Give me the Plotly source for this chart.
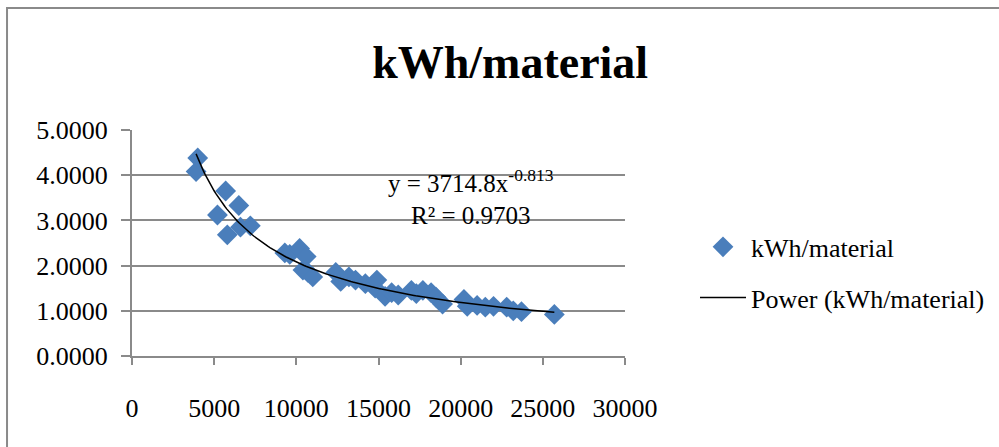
import numpy as np
import plotly.graph_objects as go

# Data
production = [3900, 4000, 5200, 5700, 5800, 6500, 6600, 7200, 9300, 9600,
              10200, 10400, 10600, 10700, 11000, 12400, 12700, 13200, 13600, 14200,
              14800, 14900, 15400, 15800, 16200, 17000, 17300, 17700, 18200, 18500,
              18900, 20200, 20400, 21000, 21500, 22000, 22800, 23200, 23700, 25700]
kwh_per_material = [4.08, 4.38, 3.12, 3.65, 2.68, 3.33, 2.85, 2.88, 2.28, 2.25,
                    2.38, 1.90, 2.20, 1.85, 1.75, 1.85, 1.65, 1.75, 1.68, 1.60,
                    1.50, 1.68, 1.32, 1.40, 1.35, 1.45, 1.38, 1.45, 1.40, 1.30,
                    1.15, 1.25, 1.10, 1.12, 1.08, 1.10, 1.08, 1.00, 0.98, 0.92]

# Power trendline coefficients shown on the chart
coef_a = 3714.8
coef_b = -0.813
r_squared = 0.9703

x_ticks = [0, 5000, 10000, 15000, 20000, 25000, 30000]
x_tick_labels = ["0", "5000", "10000", "15000", "20000", "25000", "30000"]
y_ticks = [0, 1, 2, 3, 4, 5]

serif = "Liberation Serif, Times New Roman, serif"

xt = np.linspace(min(production), max(production), 200)
yt = coef_a * xt ** coef_b

fig = go.Figure()
fig.add_trace(go.Scatter(
    x=production, y=kwh_per_material, mode="markers", name="kWh/material",
    marker=dict(symbol="diamond", size=16, color="#4a7ebb", line=dict(width=0)),
    legendgroup="a",
))
fig.add_trace(go.Scatter(
    x=xt, y=yt, mode="lines", name="Power (kWh/material)",
    line=dict(color="black", width=1.5), legendgroup="b",
))

fig.add_annotation(
    x=20600, y=3.52, xref="x", yref="y", showarrow=False,
    text=f"y = {coef_a}x<sup>{coef_b}</sup><br>R² = {r_squared:.4f}",
    font=dict(family=serif, size=25, color="black"), align="center",
)

# outer chart border
fig.add_shape(type="rect", xref="paper", yref="paper",
              x0=-0.2535, x1=1.78, y0=-0.47, y1=1.54,
              line=dict(color="#8a8a8a", width=2), fillcolor="rgba(0,0,0,0)")

fig.update_layout(
    width=999, height=447,
    margin=dict(l=132, r=374, t=130, b=91, autoexpand=False),
    paper_bgcolor="white", plot_bgcolor="white",
    title=dict(text="<b>kWh/material</b>", x=0.767, xref="paper", xanchor="center",
               y=0.862, yanchor="middle",
               font=dict(family=serif, size=46, color="black")),
    legend=dict(x=1.142, xanchor="left", y=0.37, yanchor="middle",
                font=dict(family=serif, size=26, color="black"),
                traceorder="grouped", tracegroupgap=14,
                bgcolor="rgba(0,0,0,0)", itemwidth=46),
    showlegend=True,
)
fig.update_xaxes(
    range=[0, 30000], tickvals=x_ticks, ticktext=x_tick_labels,
    showgrid=False, zeroline=False, showline=True, linecolor="#8a8a8a", linewidth=2,
    ticks="outside", ticklen=7, tickcolor="#8a8a8a", tickwidth=2,
    tickfont=dict(family=serif, size=26, color="black"),
    ticklabelstandoff=21,
)
fig.update_yaxes(
    range=[0, 5], tickvals=y_ticks, tickformat=".4f",
    showgrid=True, gridcolor="#8a8a8a", gridwidth=1.5, zeroline=False,
    showline=True, linecolor="#8a8a8a", linewidth=2,
    ticks="outside", ticklen=9, tickcolor="#8a8a8a", tickwidth=2,
    tickfont=dict(family=serif, size=26, color="black"),
    ticklabelstandoff=8,
)

fig.write_html("out.html", config={"displayModeBar": False},
               post_script="document.body.style.margin='0';")
